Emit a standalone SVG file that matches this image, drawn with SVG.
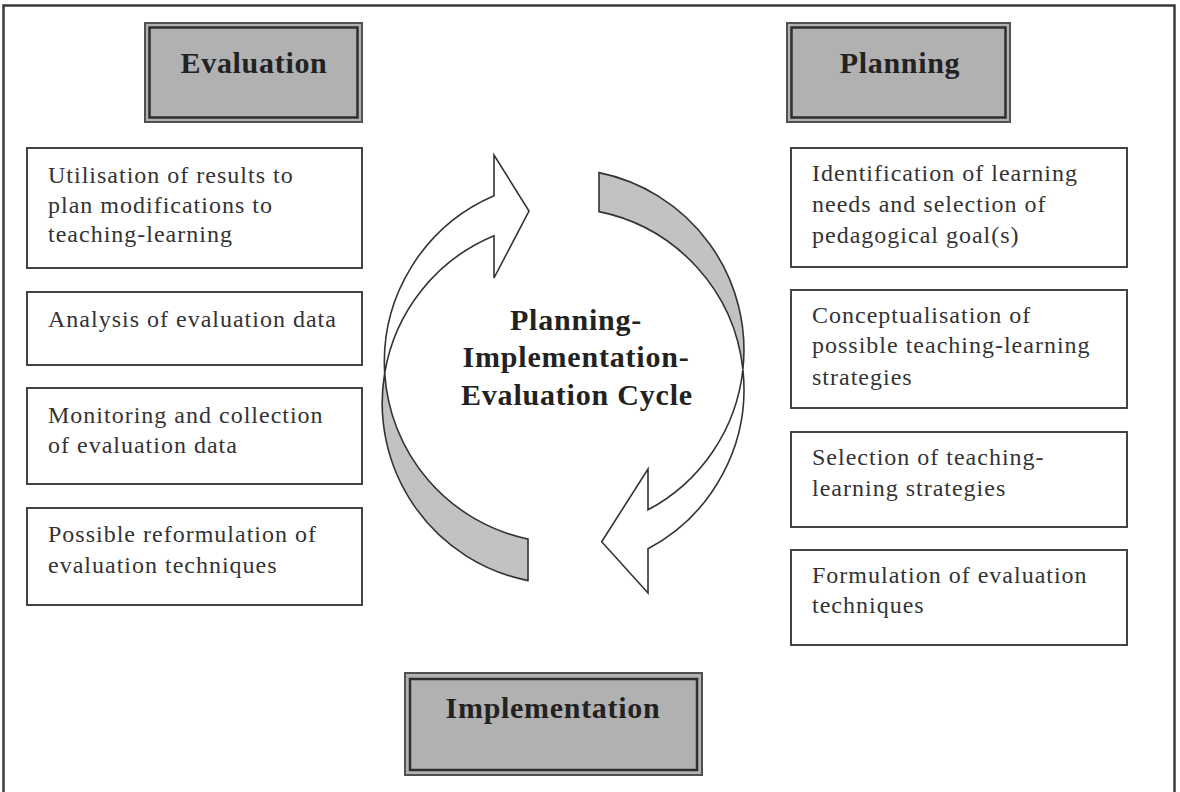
<svg xmlns="http://www.w3.org/2000/svg" width="1180" height="792" viewBox="0 0 1180 792">
<style>
.frame{fill:none;stroke:#3a3a3a;stroke-width:2.5}
.hdr-o{fill:#b1b1b1;stroke:#505050;stroke-width:2}
.hdr-i{fill:none;stroke:#2e2e2e;stroke-width:2.5}
.hdr-t{font-family:"Liberation Serif","Times New Roman",serif;font-weight:bold;font-size:30px;fill:#222;letter-spacing:0.7px;text-anchor:middle}
.box{fill:#fff;stroke:#444;stroke-width:2}
.bt{font-family:"Liberation Serif","Times New Roman",serif;font-size:24px;fill:#333;letter-spacing:1px}
.ct{font-family:"Liberation Serif","Times New Roman",serif;font-weight:bold;font-size:30px;fill:#222;letter-spacing:0.8px;text-anchor:middle}
.wa{fill:#fff;stroke:#333;stroke-width:1.6;stroke-linejoin:miter}
.ga{fill:#c2c2c2;stroke:#333;stroke-width:1.6}
</style>
<rect x="0" y="0" width="1180" height="792" fill="#fff"/>
<rect class="frame" x="3.5" y="5.5" width="1171" height="800"/>

<g id="connectors">
  <path class="ga" d="M 599 172.6 A 181 181 0 0 1 742.9 369.5 A 181 181 0 0 0 599 211.6 Z"/>
  <path class="ga" d="M 528 580.6 A 181 181 0 0 1 384.7 373 A 181 181 0 0 0 528 539.1 Z"/>
  <path class="wa" d="M 384.7 373 A 181 181 0 0 1 494 195.7 L 494 155 L 529 211 L 494 278 L 494 235.7 A 181 181 0 0 0 384.7 373 Z"/>
  <path class="wa" d="M 742.9 369.5 A 181 181 0 0 1 648 548.8 L 648 593 L 601.7 541.7 L 648 469 L 648 509.8 A 181 181 0 0 0 742.9 369.5 Z"/>
</g>

<g id="cycle-label">
  <text class="ct" x="576" y="330">Planning-</text>
  <text class="ct" x="576" y="367">Implementation-</text>
  <text class="ct" x="577" y="405">Evaluation Cycle</text>
</g>

<g id="evaluation">
  <rect class="hdr-o" x="145" y="23" width="217" height="99"/>
  <rect class="hdr-i" x="149.5" y="27.5" width="208" height="90"/>
  <text class="hdr-t" x="254" y="73">Evaluation</text>
</g>
<g id="planning">
  <rect class="hdr-o" x="787" y="23" width="223" height="99"/>
  <rect class="hdr-i" x="791.5" y="27.5" width="214" height="90"/>
  <text class="hdr-t" x="900" y="73">Planning</text>
</g>
<g id="implementation">
  <rect class="hdr-o" x="405" y="673" width="297" height="102"/>
  <rect class="hdr-i" x="410" y="679" width="287" height="91"/>
  <text class="hdr-t" x="553" y="718">Implementation</text>
</g>

<g id="eval-1">
  <rect class="box" x="27" y="148" width="335" height="120"/>
  <text class="bt" x="48" y="183">Utilisation of results to</text>
  <text class="bt" x="48" y="213">plan modifications to</text>
  <text class="bt" x="48" y="242">teaching-learning</text>
</g>
<g id="eval-2">
  <rect class="box" x="27" y="292" width="335" height="73"/>
  <text class="bt" x="48" y="327">Analysis of evaluation data</text>
</g>
<g id="eval-3">
  <rect class="box" x="27" y="388" width="335" height="96"/>
  <text class="bt" x="48" y="423">Monitoring and collection</text>
  <text class="bt" x="48" y="453">of evaluation data</text>
</g>
<g id="eval-4">
  <rect class="box" x="27" y="508" width="335" height="97"/>
  <text class="bt" x="48" y="542">Possible reformulation of</text>
  <text class="bt" x="48" y="573">evaluation techniques</text>
</g>

<g id="plan-1">
  <rect class="box" x="791" y="148" width="336" height="119"/>
  <text class="bt" x="812" y="181">Identification of learning</text>
  <text class="bt" x="812" y="212">needs and selection of</text>
  <text class="bt" x="812" y="243">pedagogical goal(s)</text>
</g>
<g id="plan-2">
  <rect class="box" x="791" y="290" width="336" height="118"/>
  <text class="bt" x="812" y="323">Conceptualisation of</text>
  <text class="bt" x="812" y="353">possible teaching-learning</text>
  <text class="bt" x="812" y="385">strategies</text>
</g>
<g id="plan-3">
  <rect class="box" x="791" y="432" width="336" height="95"/>
  <text class="bt" x="812" y="465">Selection of teaching-</text>
  <text class="bt" x="812" y="496">learning strategies</text>
</g>
<g id="plan-4">
  <rect class="box" x="791" y="550" width="336" height="95"/>
  <text class="bt" x="812" y="583">Formulation of evaluation</text>
  <text class="bt" x="812" y="613">techniques</text>
</g>
</svg>
